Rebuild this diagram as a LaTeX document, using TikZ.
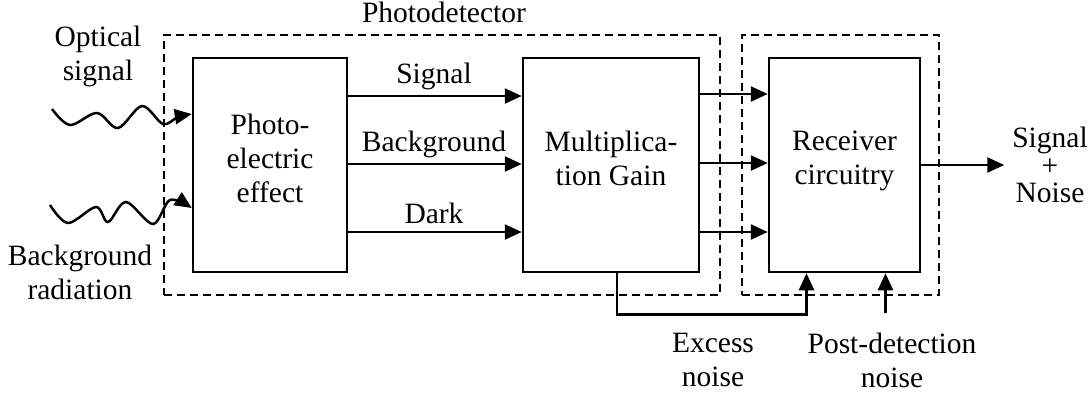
\documentclass[tikz,border=0pt]{standalone}
\usepackage{fontspec}
\setmainfont{Liberation Serif}
\usetikzlibrary{calc,arrows.meta}

\begin{document}
\begin{tikzpicture}[x=0.4pt,y=-0.4pt,>={Triangle[length=6.8pt,width=6pt]}]
        \fontsize{11.8}{13.6}\selectfont
        \tikzstyle{block} = [rectangle,draw,line width=1pt,align=center,
          minimum height=85.6pt,inner sep=0pt,text depth=5.5pt]
        \tikzstyle{frame} = [rectangle,draw,dashed,line width=0.8pt,
          dash pattern=on 3.2pt off 2pt,minimum height=104pt,inner sep=0pt]
        \tikzstyle{label} = [align=center,inner sep=3pt]
        \useasboundingbox (0,0) rectangle (1089,396);
        \node[frame,minimum width=222.4pt] (pd) at (442,165) {};
        \node[frame,minimum width=78.8pt] (rx) at (840.5,165) {};
        \node[block,minimum width=61.6pt] (pe) at (270,165) {Photo-\\electric\\effect};
        \node[block,minimum width=70.4pt] (mg) at (611,165) {Multiplica-\\tion Gain};
        \node[block,minimum width=60.4pt] (rc) at (844.5,165) {Receiver\\circuitry};
        \node[label] (pdl) at (444,12) {Photodetector};
        \node[label] (os) at (98,56) {Optical\\signal};
        \node[label] (br) at (80,272) {Background\\radiation};
        \node[label] (sg) at (434,76) {Signal};
        \node[label] (bg) at (434,144) {Background};
        \node[label] (dk) at (434,213) {Dark};
        \node[label] (out) at (1050,165) {Signal\\[-2.6pt]+\\[-2.6pt]Noise};
        \node[label] (en) at (713,360) {Excess\\noise};
        \node[label] (pn) at (892,360) {Post-detection\\noise};
        \coordinate (ostip) at ($(pe.west)+(0,-51)$);
        \coordinate (brtip) at ($(pe.west)+(0,43)$);
        \coordinate (pnstart) at ($(rc.south)+(41,40)$);
        % wavy inputs
        \draw [->,line width=1pt] plot[smooth,tension=0.55] coordinates
          {(52,109) (70,125) (97,113) (118,128) (142,106) (163,124) (178,117) (ostip)};
        \draw [->,line width=1pt] plot[smooth,tension=0.55] coordinates
          {(50,205) (68,223) (96,207) (108,222) (126,202) (153,224) (170,200) (brtip)};
        % photocurrents
        \draw [->,line width=1pt] ($(pe.east)+(0,-69)$) -- ($(mg.west)+(0,-69)$);
        \draw [->,line width=1pt] ($(pe.east)+(0,-1)$) -- ($(mg.west)+(0,-1)$);
        \draw [->,line width=1pt] ($(pe.east)+(0,67)$) -- ($(mg.west)+(0,67)$);
        \draw [->,line width=1pt] ($(mg.east)+(0,-71)$) -- ($(rc.west)+(0,-71)$);
        \draw [->,line width=1pt] ($(mg.east)+(0,-2)$) -- ($(rc.west)+(0,-2)$);
        \draw [->,line width=1pt] ($(mg.east)+(0,67)$) -- ($(rc.west)+(0,67)$);
        \draw [->,line width=1pt] (rc.east) -- (out.west);
        % noise sources
        \draw [->,line width=1pt] ($(mg.south)+(6,0)$) -- ++(0,41) -| ($(rc.south)+(-38,0)$);
        \draw [->,line width=1pt] (pnstart) -- ($(rc.south)+(41,0)$);
      \end{tikzpicture}
\end{document}
